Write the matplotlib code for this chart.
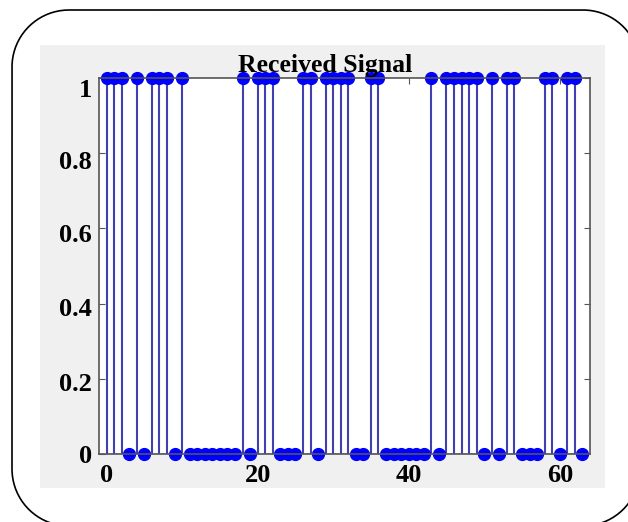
import numpy as np
import matplotlib.pyplot as plt
from matplotlib.patches import Rectangle
from matplotlib.transforms import ScaledTranslation

# received bit stream, 64 samples
n = np.arange(64)
bits = [1, 1, 1, 0, 1, 0, 1, 1, 1, 0, 1, 0, 0, 0, 0, 0,
        0, 0, 1, 0, 1, 1, 1, 0, 0, 0, 1, 1, 0, 1, 1, 1,
        1, 0, 0, 1, 1, 0, 0, 0, 0, 0, 0, 1, 0, 1, 1, 1,
        1, 1, 0, 1, 0, 1, 1, 0, 0, 0, 1, 1, 0, 1, 1, 0]
xticks = [0, 20, 40, 60]
yticks = [0, 0.2, 0.4, 0.6, 0.8, 1]
ylabels = ['0', '0.2', '0.4', '0.6', '0.8', '1']
# small downward nudge of the y labels (points)
ylabel_drop = [0, 2.5, 2.5, 3.5, 5, 7]

plt.rcParams['font.family'] = ['Liberation Serif', 'DejaVu Serif']

fig = plt.figure(figsize=(6.28, 5.22), dpi=100)
fig.patch.set_facecolor('white')

# background layer in pixel units (y down): grey panel and rounded frame
bg = fig.add_axes([0, 0, 1, 1], zorder=-1)
bg.set_xlim(0, 628)
bg.set_ylim(522, 0)
bg.axis('off')
bg.add_patch(Rectangle((40, 45), 565, 443, facecolor='#f0f0f0', edgecolor='none'))

left, right, top, bottom, r = 12, 640, 10, 526, 57
corners = [(right - r, bottom - r, 0, 90), (left + r, bottom - r, 90, 180),
           (left + r, top + r, 180, 270), (right - r, top + r, 270, 360)]
fx, fy = [], []
for cx, cy, a0, a1 in corners:
    t = np.radians(np.linspace(a0, a1, 40))
    fx.extend(cx + r * np.cos(t))
    fy.extend(cy + r * np.sin(t))
fx.append(fx[0])
fy.append(fy[0])
bg.plot(fx, fy, color='black', linewidth=1.2, clip_on=False)

ax = fig.add_axes([99 / 628, 1 - 454 / 522, 491 / 628, 376 / 522])
ax.set_facecolor('white')

markerline, stemlines, baseline = ax.stem(n, bits)
stemlines.set_color('#4040b0')
stemlines.set_linewidth(1.5)
markerline.set_color('#0000ff')
markerline.set_markersize(8.5)
markerline.set_clip_on(False)
baseline.set_color('#4040b0')
baseline.set_linewidth(1.0)

ax.set_xlim(-1, 64)
ax.set_ylim(0, 1)
ax.set_xticks(xticks)
ax.set_xticklabels([str(t) for t in xticks])
ax.set_yticks(yticks)
ax.set_yticklabels(ylabels)
ax.tick_params(direction='in', top=True, right=True, length=4,
               color='#555555', labelsize=19)
ax.tick_params(axis='x', pad=7)
ax.tick_params(axis='y', pad=5)
for lab in ax.get_xticklabels() + ax.get_yticklabels():
    lab.set_fontweight('bold')
for lab, d in zip(ax.get_yticklabels(), ylabel_drop):
    lab.set_transform(lab.get_transform() + ScaledTranslation(0, -d / 72, fig.dpi_scale_trans))
for sp in ax.spines.values():
    sp.set_color('#555555')
    sp.set_linewidth(1.2)

ax.set_title('Received Signal', fontsize=18.5, fontweight='bold', x=0.461, pad=4.5)

fig.savefig('out.png', dpi=100)
